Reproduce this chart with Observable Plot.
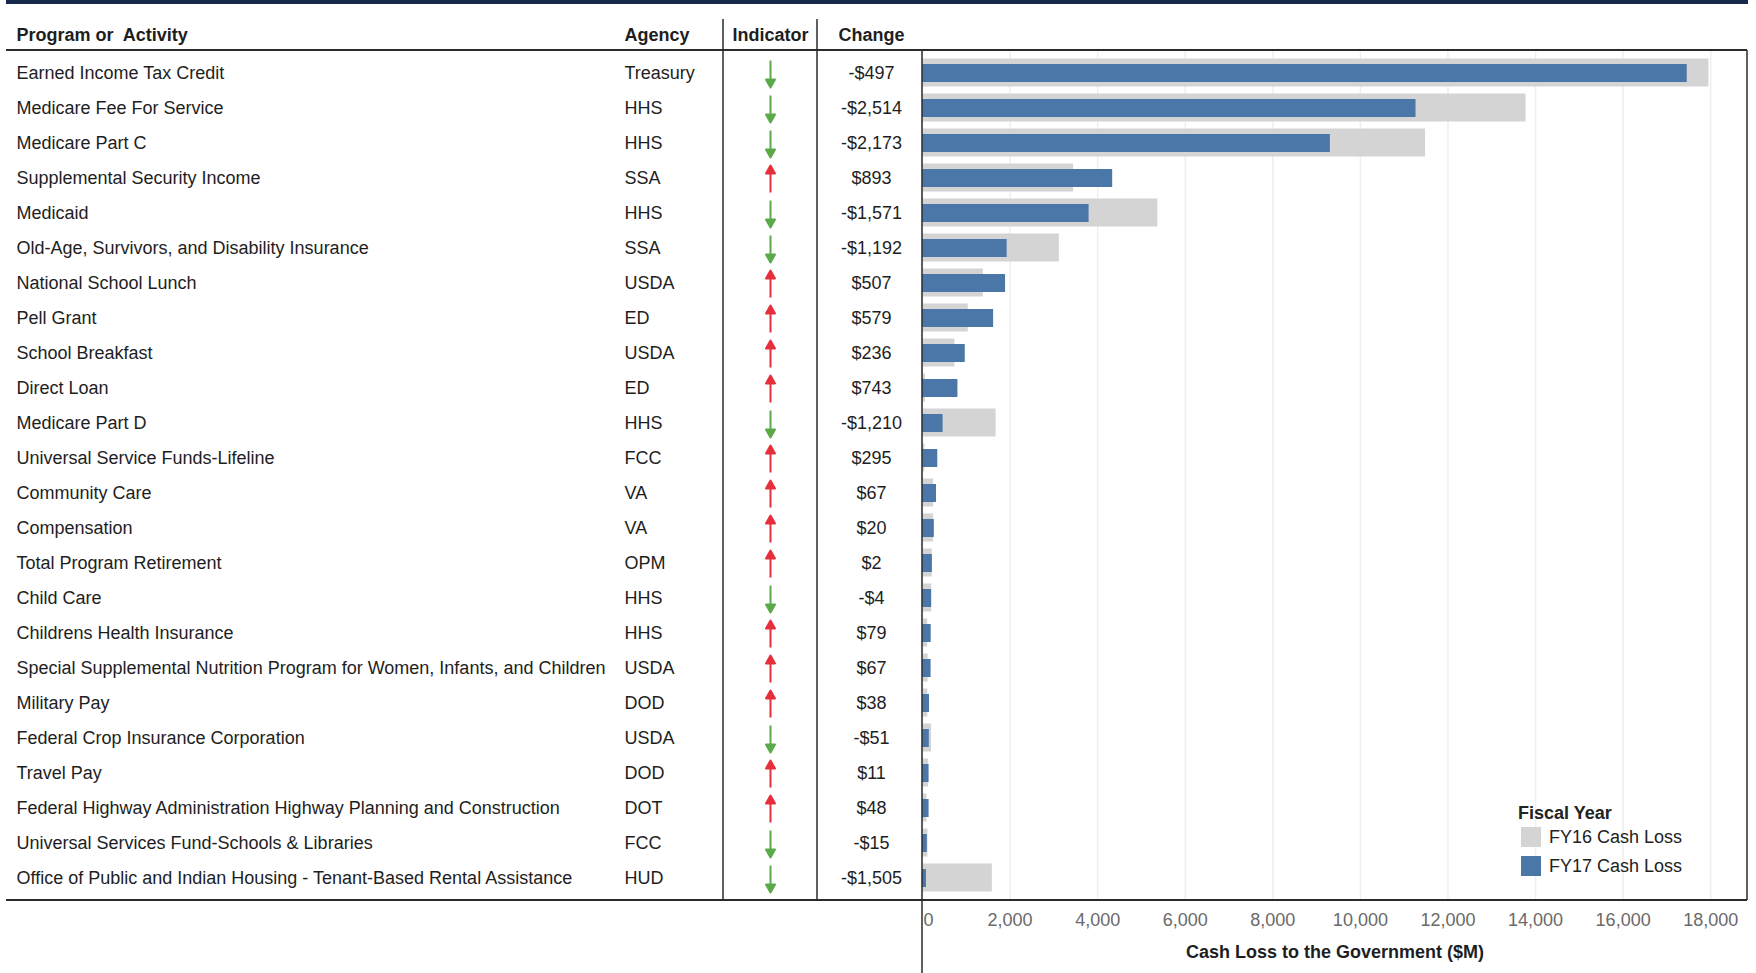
<!DOCTYPE html>
<html><head><meta charset="utf-8">
<script src="https://cdn.jsdelivr.net/npm/d3@7"></script>
<script src="https://cdn.jsdelivr.net/npm/@observablehq/plot@0.6"></script>
<style>
body{margin:0;background:#fff;font-family:"Liberation Sans",Arial,sans-serif;}
#wrap{position:relative;width:1756px;height:973px;overflow:hidden;}
#wrap svg text{white-space:pre;}
#legend{position:absolute;left:1518px;top:802px;font-size:18px;color:#222;line-height:22px;}
#legend .t{font-weight:bold;margin-bottom:-2px;}
#legend .it{display:flex;align-items:center;height:29px;}
#legend .sw{width:20px;height:20px;margin:0 8px 0 3px;}
</style></head><body><div id="wrap"></div>
<script>
const programs = [
  "Earned Income Tax Credit",
  "Medicare Fee For Service",
  "Medicare Part C",
  "Supplemental Security Income",
  "Medicaid",
  "Old-Age, Survivors, and Disability Insurance",
  "National School Lunch",
  "Pell Grant",
  "School Breakfast",
  "Direct Loan",
  "Medicare Part D",
  "Universal Service Funds-Lifeline",
  "Community Care",
  "Compensation",
  "Total Program Retirement",
  "Child Care",
  "Childrens Health Insurance",
  "Special Supplemental Nutrition Program for Women, Infants, and Children",
  "Military Pay",
  "Federal Crop Insurance Corporation",
  "Travel Pay",
  "Federal Highway Administration Highway Planning and Construction",
  "Universal Services Fund-Schools & Libraries",
  "Office of Public and Indian Housing - Tenant-Based Rental Assistance"
];
const agencies = ["Treasury","HHS","HHS","SSA","HHS","SSA","USDA","ED","USDA","ED","HHS","FCC","VA","VA","OPM","HHS","HHS","USDA","DOD","USDA","DOD","DOT","FCC","HUD"];
const changes = [-497,-2514,-2173,893,-1571,-1192,507,579,236,743,-1210,295,67,20,2,-4,79,67,38,-51,11,48,-15,-1505];
const fy16 = [17960,13784,11488,3450,5375,3125,1390,1045,740,66,1680,54,253,250,223,212,119,129,122,206,139,102,125,1595];
const fy17 = [17463,11270,9315,4343,3804,1933,1897,1624,976,809,470,349,320,270,225,208,198,196,160,155,150,150,110,90];
const xTicks = [0,2000,4000,6000,8000,10000,12000,14000,16000,18000];
const seriesNames = ["FY16 Cash Loss","FY17 Cash Loss"];
const headers = ["Program or  Activity","Agency","Indicator","Change"];
const xLabel = "Cash Loss to the Government ($M)";
const legendTitle = "Fiscal Year";

const colors = {fy16:"#d4d4d4", fy17:"#4a76a8", up:"#e5303c", down:"#5aaa4a", grid:"#efefef", line:"#2b2b2b", text:"#1e1e1e"};

const rows = programs.map((p,i)=>({program:p, agency:agencies[i], change:changes[i], fy16:fy16[i], fy17:fy17[i]}));
const fmt = d3.format(",");
const fmtChange = d => (d < 0 ? "-$" : "$") + fmt(Math.abs(d));

const W = 1756, H = 973;
const col = {program:-906, agency:-298, indicator:-152, change:-51};
const fs = 18;

// arrow shape: thin shaft with small filled head
const arrowShape = {
  draw(ctx, l) {
    const hw = 4.5, hh = 8;
    ctx.moveTo(0, 0);
    ctx.lineTo(0, -l + hh - 1);
    ctx.moveTo(-hw, -l + hh);
    ctx.lineTo(0, -l);
    ctx.lineTo(hw, -l + hh);
    ctx.closePath();
  }
};

const chart = Plot.plot({
  width: W, height: H,
  marginLeft: 922, marginRight: 9, marginTop: 50, marginBottom: 73,
  style: {fontFamily: '"Liberation Sans", Arial, sans-serif', fontSize: fs+"px", background:"#fff", color: colors.text},
  x: {domain:[0,18840], axis:null},
  y: {domain: programs, axis:null, padding:0},
  marks: [
    Plot.gridX(xTicks, {stroke: colors.grid, strokeOpacity:1, strokeWidth:1.5}),
    Plot.barX(rows, {y:"program", x:"fy16", fill: colors.fy16, insetTop:3.5, insetBottom:3.5}),
    Plot.barX(rows, {y:"program", x:"fy17", fill: colors.fy17, insetTop:9, insetBottom:8}),
    Plot.text(rows, {y:"program", text:"program", frameAnchor:"left", lineAnchor:"middle", dx:col.program, textAnchor:"start", fill: colors.text, fontSize: fs}),
    Plot.text(rows, {y:"program", text:"agency", frameAnchor:"left", lineAnchor:"middle", dx:col.agency, textAnchor:"start", fill: colors.text, fontSize: fs}),
    Plot.text(rows, {y:"program", text: d=>fmtChange(d.change), frameAnchor:"left", lineAnchor:"middle", dx:col.change, textAnchor:"middle", fill: colors.text, fontSize: fs}),
    Plot.vector(rows, {filter: d=>d.change<0, y:"program", frameAnchor:"left", dx:col.indicator, dy:1, length:27, rotate:180, anchor:"middle", shape: arrowShape, stroke: colors.down, fill: colors.down, strokeWidth:2, strokeLinecap:"butt"}),
    Plot.vector(rows, {filter: d=>d.change>=0, y:"program", frameAnchor:"left", dx:col.indicator, dy:1, length:27, rotate:0, anchor:"middle", shape: arrowShape, stroke: colors.up, fill: colors.up, strokeWidth:2, strokeLinecap:"butt"}),
    Plot.text([headers[0]], {frameAnchor:"top-left", lineAnchor:"middle", dx:col.program, dy:-15, textAnchor:"start", fontWeight:"bold", fill: colors.text, fontSize: fs}),
    Plot.text([headers[1]], {frameAnchor:"top-left", lineAnchor:"middle", dx:col.agency, dy:-15, textAnchor:"start", fontWeight:"bold", fill: colors.text, fontSize: fs}),
    Plot.text([headers[2]], {frameAnchor:"top-left", lineAnchor:"middle", dx:col.indicator, dy:-15, textAnchor:"middle", fontWeight:"bold", fill: colors.text, fontSize: fs}),
    Plot.text([headers[3]], {frameAnchor:"top-left", lineAnchor:"middle", dx:col.change, dy:-15, textAnchor:"middle", fontWeight:"bold", fill: colors.text, fontSize: fs}),
    Plot.text(xTicks, {filter: d=>d===0, x: d=>d, text: d=>fmt(d), frameAnchor:"bottom", lineAnchor:"middle", dy:20, dx:6, fill:"#6a6a6a", fontSize: fs}),
    Plot.text(xTicks, {filter: d=>d!==0, x: d=>d, text: d=>fmt(d), frameAnchor:"bottom", lineAnchor:"middle", dy:20, fill:"#6a6a6a", fontSize: fs}),
    Plot.text([xLabel], {frameAnchor:"bottom", lineAnchor:"middle", dy:52, fontWeight:"bold", fill: colors.text, fontSize: fs})
  ]
});

document.getElementById("wrap").appendChild(chart);

const sx = chart.scale("x"), sy = chart.scale("y");
const xLeft = sx.range[0], xRight = sx.range[1];
const yTop = sy.range[0], yBottom = sy.range[1];
const svgSel = d3.select(chart);
const g = svgSel.append("g");
g.append("rect").attr("x", 6).attr("y", 0).attr("width", xRight - 6 + 1).attr("height", 4).attr("fill", "#17294a");
const hline = (y, x1, x2, w) => g.append("line").attr("x1",x1).attr("x2",x2).attr("y1",y).attr("y2",y).attr("stroke",colors.line).attr("stroke-width",w);
const vline = (x, y1, y2, w) => g.append("line").attr("x1",x).attr("x2",x).attr("y1",y1).attr("y2",y2).attr("stroke",colors.line).attr("stroke-width",w);
hline(yTop, 6, xRight, 2);
hline(yBottom, 6, xRight, 2);
vline(xLeft + col.indicator - 47, 19, yBottom, 1.5);
vline(xLeft + col.indicator + 47, 19, yBottom, 1.5);
vline(xLeft, yTop, H, 1.5);
vline(xRight, yTop, yBottom, 1.5);

const lg = document.createElement("div");
lg.id = "legend";
lg.innerHTML = `<div class="t">${legendTitle}</div>` +
  seriesNames.map((s,i)=>`<div class="it"><div class="sw" style="background:${i===0?colors.fy16:colors.fy17}"></div><span>${s}</span></div>`).join("");
document.getElementById("wrap").appendChild(lg);
</script>
</body></html>
